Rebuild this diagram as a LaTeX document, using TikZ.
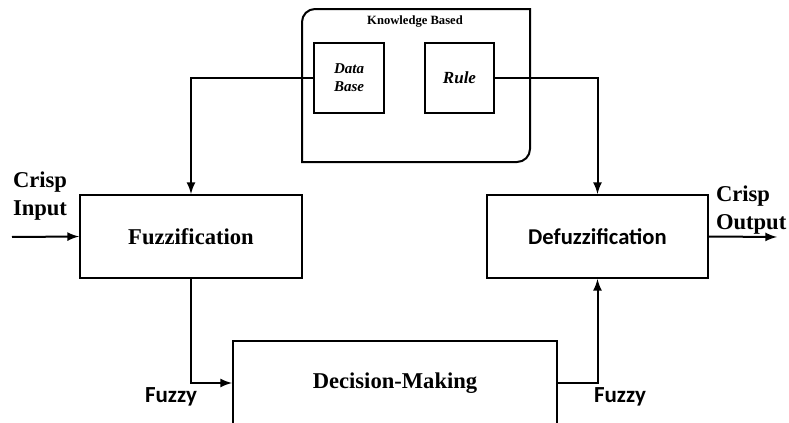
\documentclass[tikz,border=0pt]{standalone}
\usepackage{fontspec}
\setmainfont{Liberation Serif}
\newfontfamily\calibfont{Carlito}

\begin{document}
\begin{tikzpicture}[x=0.5pt, y=-0.5pt, line width=1pt,
		block/.style={draw, rectangle, inner sep=0pt, minimum height=41.5pt, font=\fontsize{11.3}{13}\selectfont\bfseries},
		store/.style={draw, rectangle, inner sep=0pt, minimum width=35pt, minimum height=35pt, align=center, font=\fontsize{7.5}{9}\selectfont\bfseries\itshape},
		crisp/.style={align=left, inner sep=0pt, anchor=west, font=\fontsize{11.3}{14}\selectfont\bfseries},
		fuzzy/.style={inner sep=0pt, font=\calibfont\fontsize{11.5}{13}\selectfont\bfseries}]
		\useasboundingbox (0,0) rectangle (789,423);
		
		% knowledge based
		\draw (302,90) {[rounded corners=6.5pt] -- (302,9) -- (416,9)} -- (530,9) -- (530,90)
		{[rounded corners=6.5pt] -- (530,162) -- (416,162)} -- (302,162) -- cycle;
		\node[inner sep=0pt, font=\fontsize{6.3}{7}\selectfont\bfseries] (kbtitle) at (415,22) {Knowledge Based};
		\node[store] (database) at (349,78) {Data\\Base};
		\node[store, minimum width=34.5pt, font=\fontsize{8.5}{9}\selectfont\bfseries\itshape] (rule) at (459.5,78) {Rule};
		
		% main blocks
		\node[block, minimum width=111pt] (fuzz) at (191,236.5) {Fuzzification};
		\node[block, minimum width=110.5pt, font=\calibfont\fontsize{11.3}{13}\selectfont\bfseries] (defuzz) at (597.5,236.5) {Defuzzification};
		\node[block, minimum width=162pt, minimum height=42pt] (decision) at (395,383) {Decision-Making};
		
		% labels
		\node[crisp] (cin) at (12,196) {Crisp\\Input};
		\node[crisp] (cout) at (715,210) {Crisp\\Output};
		\node[fuzzy] (fuzzyl) at (171,397) {Fuzzy};
		\node[fuzzy] (fuzzyr) at (620,397) {Fuzzy};
		\coordinate (inpt) at (12,237);
		\coordinate (outpt) at (777,237);
		
		% connectors
		\draw[->, >=latex] (database.west) -| (fuzz.north);
		\draw[->, >=latex] (rule.east) -| (defuzz.north);
		\draw[->, >=latex] (inpt) -- (fuzz.west);
		\draw[->, >=latex] (fuzz.south) |- (decision.west);
		\draw[->, >=latex] (decision.east) -| (defuzz.south);
		\draw[->, >=latex] (defuzz.east) -- (outpt);
\end{tikzpicture}
\end{document}
